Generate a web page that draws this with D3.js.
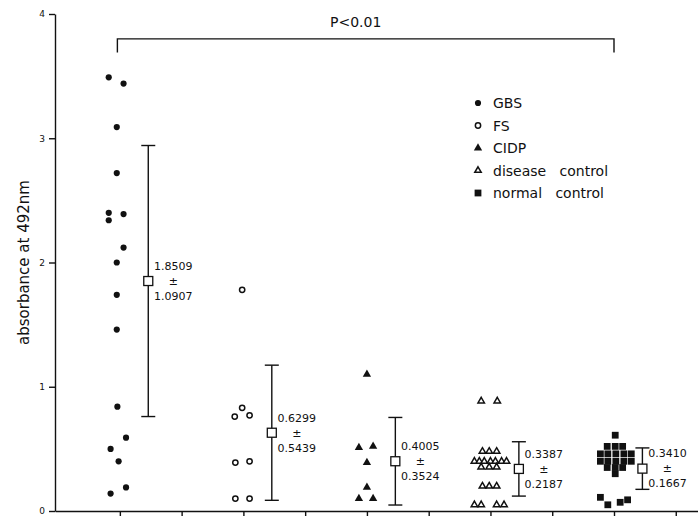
<!DOCTYPE html>
<html>
<head>
<meta charset="utf-8">
<script src="https://cdn.jsdelivr.net/npm/d3@7"></script>
<style>
  html, body { margin: 0; padding: 0; background: #fff; }
  text { font-family: "DejaVu Sans", sans-serif; fill: #111; }
</style>
</head>
<body>
<div id="chart"></div>
<script>
// group names, as in the legend
const categories = ['GBS', 'FS', 'CIDP', 'disease   control', 'normal   control']

// absorbance values per group, with the sideways jitter (in group units) of each dot
const gbsValues = [3.49, 3.44, 3.09, 2.72, 2.40, 2.34, 2.39, 2.12, 2.00, 1.74, 1.46, 0.84, 0.59, 0.50, 0.40, 0.19, 0.14]
const gbsJitter = [-0.09, 0.03, -0.025, -0.025, -0.09, -0.09, 0.03, 0.03, -0.025, -0.025, -0.025, -0.02, 0.05, -0.075, -0.01, 0.05, -0.075]

const fsValues = [1.78, 0.83, 0.76, 0.77, 0.39, 0.40, 0.10, 0.10]
const fsJitter = [-0.01, -0.01, -0.07, 0.05, -0.065, 0.05, -0.065, 0.05]

const cidpValues = [1.10, 0.51, 0.52, 0.39, 0.19, 0.10, 0.10]
const cidpJitter = [0, -0.065, 0.05, 0, 0, -0.065, 0.05]

const diseaseValues = [0.885, 0.885, 0.48, 0.48, 0.48, 0.40, 0.40, 0.40, 0.40, 0.40, 0.40, 0.40, 0.354, 0.354, 0.354, 0.20, 0.20, 0.20, 0.05, 0.05, 0.05, 0.05]
const diseaseJitter = [-0.075, 0.055, -0.065, -0.01, 0.05, -0.13, -0.09, -0.05, 0, 0.04, 0.09, 0.13, -0.075, -0.01, 0.05, -0.065, -0.01, 0.05, -0.13, -0.075, 0.05, 0.11]

const normalValues = [0.61, 0.52, 0.52, 0.52, 0.46, 0.46, 0.46, 0.46, 0.46, 0.40, 0.40, 0.40, 0.40, 0.40, 0.35, 0.35, 0.35, 0.30, 0.11, 0.05, 0.07, 0.09]
const normalJitter = [0.01, -0.055, 0.01, 0.07, -0.11, -0.05, 0.015, 0.08, 0.14, -0.11, -0.05, 0.015, 0.08, 0.14, -0.055, 0.01, 0.07, 0.01, -0.11, -0.05, 0.05, 0.11]

// mean and SD printed beside each group
const means = [1.8509, 0.6299, 0.4005, 0.3387, 0.3410]
const sds = [1.0907, 0.5439, 0.3524, 0.2187, 0.1667]

const yTicks = [0, 1, 2, 3, 4]
const yLabel = 'absorbance at 492nm'
const pLabel = 'P<0.01'

const width = 698
const height = 516

const svg = d3.select('#chart').append('svg')
  .attr('width', width)
  .attr('height', height)

const x = d3.scaleLinear().domain([-0.525, 4.68]).range([55, 698])
const y = d3.scaleLinear().domain([0, 4]).range([511, 14])

// axes
const xAxis = svg.append('g')
  .attr('transform', 'translate(0,' + y(0) + ')')
  .call(d3.axisBottom(x).tickValues(d3.range(0, 5, 0.5)).tickFormat('').tickSize(6).tickSizeOuter(0))

const yAxis = svg.append('g')
  .attr('transform', 'translate(' + x.range()[0] + ',0)')
  .call(d3.axisLeft(y).tickValues(yTicks).tickFormat(d3.format('d')).tickSize(6).tickPadding(4).tickSizeOuter(0))

svg.selectAll('.domain, .tick line').attr('stroke', '#111').attr('stroke-width', 1.4)
yAxis.selectAll('text').style('font-size', '9px').attr('fill', '#111')

svg.append('text')
  .attr('transform', 'translate(24,' + y(2) + ') rotate(-90)')
  .attr('text-anchor', 'middle')
  .attr('dy', '0.35em')
  .style('font-size', '15px')
  .text(yLabel)

// dot groups
const groups = [
  { values: gbsValues, jitter: gbsJitter, type: d3.symbolCircle, size: 30, filled: true },
  { values: fsValues, jitter: fsJitter, type: d3.symbolCircle, size: 22, filled: false },
  { values: cidpValues, jitter: cidpJitter, type: d3.symbolTriangle, size: 30, filled: true },
  { values: diseaseValues, jitter: diseaseJitter, type: d3.symbolTriangle, size: 18, filled: false },
  { values: normalValues, jitter: normalJitter, type: d3.symbolSquare, size: 46, filled: true }
]

groups.forEach((grp, i) => {
  svg.append('g')
    .selectAll('path')
    .data(d3.zip(grp.values, grp.jitter))
    .join('path')
    .attr('transform', d => 'translate(' + x(i + d[1]) + ',' + y(d[0]) + ')')
    .attr('d', d3.symbol(grp.type, grp.size))
    .attr('fill', grp.filled ? '#111' : '#fff')
    .attr('stroke', '#111')
    .attr('stroke-width', grp.filled ? 0 : 1.5)
})

// mean +- SD bars
const meanShift = 0.23
const cap = 7

const stats = svg.append('g')
  .selectAll('g')
  .data(d3.zip(means, sds))
  .join('g')
  .attr('transform', (d, i) => 'translate(' + x(i + meanShift) + ',0)')

stats.append('line')
  .attr('y1', d => y(d[0] + d[1]))
  .attr('y2', d => y(d[0] - d[1]))
  .attr('stroke', '#111').attr('stroke-width', 1.4)

stats.append('line')
  .attr('x1', -cap).attr('x2', cap)
  .attr('y1', d => y(d[0] + d[1])).attr('y2', d => y(d[0] + d[1]))
  .attr('stroke', '#111').attr('stroke-width', 1.4)

stats.append('line')
  .attr('x1', -cap).attr('x2', cap)
  .attr('y1', d => y(d[0] - d[1])).attr('y2', d => y(d[0] - d[1]))
  .attr('stroke', '#111').attr('stroke-width', 1.4)

stats.append('rect')
  .attr('x', -4.5).attr('y', d => y(d[0]) - 4.5)
  .attr('width', 9).attr('height', 9)
  .attr('fill', '#fff').attr('stroke', '#111').attr('stroke-width', 1.3)

const lbl = stats.append('text')
  .attr('text-anchor', 'middle')
  .style('font-size', '11px')

lbl.append('tspan').attr('x', 25).attr('y', d => y(d[0]) - 15).attr('dy', '0.35em').text(d => d3.format('.4f')(d[0]))
lbl.append('tspan').attr('x', 25).attr('y', d => y(d[0])).attr('dy', '0.35em').text('±')
lbl.append('tspan').attr('x', 25).attr('y', d => y(d[0]) + 15).attr('dy', '0.35em').text(d => d3.format('.4f')(d[1]))

// significance bracket
svg.append('path')
  .attr('d', 'M' + x(-0.02) + ',' + y(3.69) + 'V' + y(3.8) + 'H' + x(4) + 'V' + y(3.69))
  .attr('fill', 'none').attr('stroke', '#111').attr('stroke-width', 1.4)

svg.append('text')
  .attr('x', (x(-0.02) + x(4)) / 2 - 10)
  .attr('y', y(3.8) - 12)
  .attr('text-anchor', 'middle')
  .style('font-size', '14px')
  .text(pLabel)

// legend
const legend = svg.append('g').attr('transform', 'translate(478,103)')

const item = legend.selectAll('g')
  .data(groups)
  .join('g')
  .attr('transform', (d, i) => 'translate(0,' + i * 22.5 + ')')

item.append('path')
  .attr('d', d => d3.symbol(d.type, d.size)())
  .attr('fill', d => d.filled ? '#111' : '#fff')
  .attr('stroke', '#111')
  .attr('stroke-width', d => d.filled ? 0 : 1.5)

item.append('text')
  .attr('x', 15)
  .attr('dy', '0.36em')
  .style('font-size', '14px')
  .style('white-space', 'pre')
  .text((d, i) => categories[i])
</script>
</body>
</html>
